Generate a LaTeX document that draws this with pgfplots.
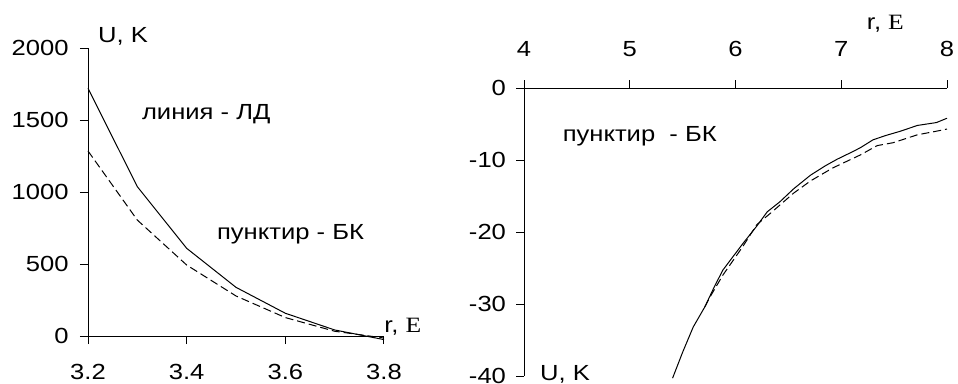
\documentclass[border=0pt]{standalone}
\usepackage{fontspec}
\setmainfont{Liberation Sans}[FakeStretch=1.17]
\newfontfamily\serifE{Liberation Serif}[FakeStretch=1.17]
\usepackage{pgfplots}
\pgfplotsset{compat=1.18}
\begin{document}
\begin{tikzpicture}
\useasboundingbox (0pt,0pt) rectangle (718.5pt,287.25pt);
\pgfplotsset{
  common/.style={
    scale only axis,
    clip=false,
    font=\fontsize{16.4}{19}\selectfont,
    tick label style={font=\fontsize{16.4}{19}\selectfont},
    /pgf/number format/assume math mode=true,
    tick align=outside,
    major tick length=6pt,
    axis line style={line width=0.75pt},
    tick style={line width=0.75pt,black},
    every axis plot/.append style={line width=0.75pt,black,mark=none},
  }
}
% Left chart
\begin{axis}[common,
  at={(66pt,35.25pt)}, anchor=south west,
  width=222pt, height=216pt,
  axis x line*=bottom, axis y line*=left,
  xmin=3.2, xmax=3.8, ymin=0, ymax=2000,
  xtick={3.2,3.4,3.6,3.8}, ytick={0,500,1000,1500,2000},
  xticklabel style={/pgf/number format/.cd,fixed,fixed zerofill,precision=1,/tikz/.cd,yshift=-12pt},
  yticklabel style={/pgf/number format/.cd,fixed,1000 sep={},/tikz/.cd,xshift=-5pt},
]
\addplot[solid] coordinates {(3.2,1720)(3.3,1037)(3.4,609)(3.5,338)(3.6,158)(3.7,42)(3.8,-25)};
\addplot[dash pattern=on 6pt off 3pt] coordinates {(3.2,1285)(3.3,805)(3.4,493)(3.5,278)(3.6,128)(3.7,33)(3.8,-14)};
\node[anchor=base west,inner sep=0pt] at (axis cs:3.22,2035) {U, K};
\node[anchor=base west,inner sep=0pt] at (axis cs:3.309,1505) {линия - ЛД};
\node[anchor=base west,inner sep=0pt] at (axis cs:3.461,667) {пунктир - БК};
\node[anchor=base west,inner sep=0pt] at (axis cs:3.8,21) {r, {\serifE E}};
\end{axis}
% Right chart
\begin{axis}[common,
  at={(393pt,5.25pt)}, anchor=south west,
  width=317.25pt, height=216pt,
  axis x line*=top, axis y line*=left,
  xmin=4, xmax=8, ymin=-40, ymax=0,
  xtick={4,5,6,7,8}, ytick={-40,-30,-20,-10,0},
  xticklabel style={yshift=14pt},
  yticklabel style={xshift=-4pt},
]
\addplot[solid] coordinates {(5.405,-40.3)(5.5,-36.7)(5.6,-33.2)(5.71,-30.4)(5.8,-27.6)(5.88,-25.3)(6.07,-21.6)(6.2,-19.2)(6.3,-17.2)(6.42,-15.8)(6.55,-14.0)(6.71,-12.1)(6.85,-10.8)(6.96,-9.9)(7.1,-8.9)(7.18,-8.3)(7.3,-7.2)(7.42,-6.6)(7.56,-6.0)(7.72,-5.2)(7.9,-4.8)(8.0,-4.2)};
\addplot[dash pattern=on 6pt off 3pt] coordinates {(5.71,-30.4)(5.76,-29.0)(5.88,-26.0)(6.07,-22.0)(6.2,-19.0)(6.33,-17.4)(6.55,-14.6)(6.71,-12.9)(6.92,-11.1)(7.18,-9.3)(7.34,-8.0)(7.49,-7.6)(7.72,-6.5)(7.9,-6.0)(8.0,-5.7)};
\node[anchor=base west,inner sep=0pt] at (axis cs:4.364,-7.43) {пунктир\ \ - БК};
\node[anchor=base west,inner sep=0pt] at (axis cs:4.15,-40.6) {U, K};
\node[anchor=base west,inner sep=0pt] at (axis cs:7.24,8.07) {r, {\serifE E}};
\end{axis}
\end{tikzpicture}
\end{document}
